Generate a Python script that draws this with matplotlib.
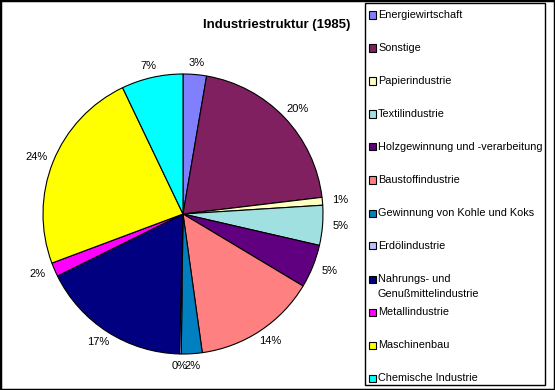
import matplotlib as ml
ml.use('Agg')
import numpy as np
import matplotlib.pyplot as plt
from matplotlib.patches import Rectangle

plt.rcParams['font.family'] = ['Liberation Sans', 'DejaVu Sans']

# Data: industry shares in percent (clockwise from 12 o'clock)
categories = ['Energiewirtschaft', 'Sonstige', 'Papierindustrie', 'Textilindustrie',
              'Holzgewinnung und -verarbeitung', 'Baustoffindustrie',
              'Gewinnung von Kohle und Koks', 'Erdölindustrie',
              'Nahrungs- und\nGenußmittelindustrie', 'Metallindustrie',
              'Maschinenbau', 'Chemische Industrie']
shares = [2.7, 20.4, 0.9, 4.6, 5.0, 14.2, 2.4, 0.2, 17.3, 1.6, 23.6, 7.1]
colors = ['#8080FF', '#802060', '#FFFFC0', '#A0E0E0', '#600080', '#FF8080',
          '#0080C0', '#C0C0FF', '#000080', '#FF00FF', '#FFFF00', '#00FFFF']
title = 'Industriestruktur (1985)'

W, H = 555, 390
fig = plt.figure(figsize=(W / 100, H / 100), dpi=100)


def fx(px):
    return px / W


def fy(py):
    return 1 - py / H


# Pie axes: centre (183, 214), radius 140 px
cx, cy, R = 183, 214, 140
ax = fig.add_axes([fx(cx - R), fy(cy + R), 2 * R / W, 2 * R / H])
wedges, _ = ax.pie(shares, colors=colors, startangle=90, counterclock=False, radius=1,
                   wedgeprops=dict(edgecolor='black', linewidth=0.8))
ax.set_xlim(-1, 1)
ax.set_ylim(-1, 1)
ax.axis('off')

# Percentage labels placed just outside the rim (Excel style)
total = sum(shares)
gap, hw, hh = 7 / R, 11 / R, 5 / R
for w, v in zip(wedges, shares):
    th = np.deg2rad((w.theta1 + w.theta2) / 2)
    ux, uy = np.cos(th), np.sin(th)
    x = (1 + gap) * ux + hw * ux
    y = (1 + gap) * uy + hh * uy
    ax.text(x, y, '%.0f%%' % (v / total * 100), ha='center', va='center',
            fontsize=8, clip_on=False)

fig.text(fx(277), fy(25), title, ha='center', va='center', fontsize=9.5, fontweight='bold')

# Legend box
fig.patches.append(Rectangle((fx(365), fy(385)), fx(545) - fx(365), fy(3) - fy(385),
                             transform=fig.transFigure, fill=False, edgecolor='black', lw=1.0))
for i, (lab, col) in enumerate(zip(categories, colors)):
    yc = 15 + 33 * i
    fig.patches.append(Rectangle((fx(368.5), fy(yc + 3.5)), 7 / W, 7 / H,
                                 transform=fig.transFigure, facecolor=col,
                                 edgecolor='black', lw=0.8))
    for j, line in enumerate(lab.split('\n')):
        fig.text(fx(378), fy(yc + 15 * j), line, ha='left', va='center', fontsize=7.8)

# Outer border
fig.patches.append(Rectangle((0, 0), 1, 1, transform=fig.transFigure, fill=False,
                             edgecolor='black', lw=2.5))

fig.savefig('out.png', dpi=100)
